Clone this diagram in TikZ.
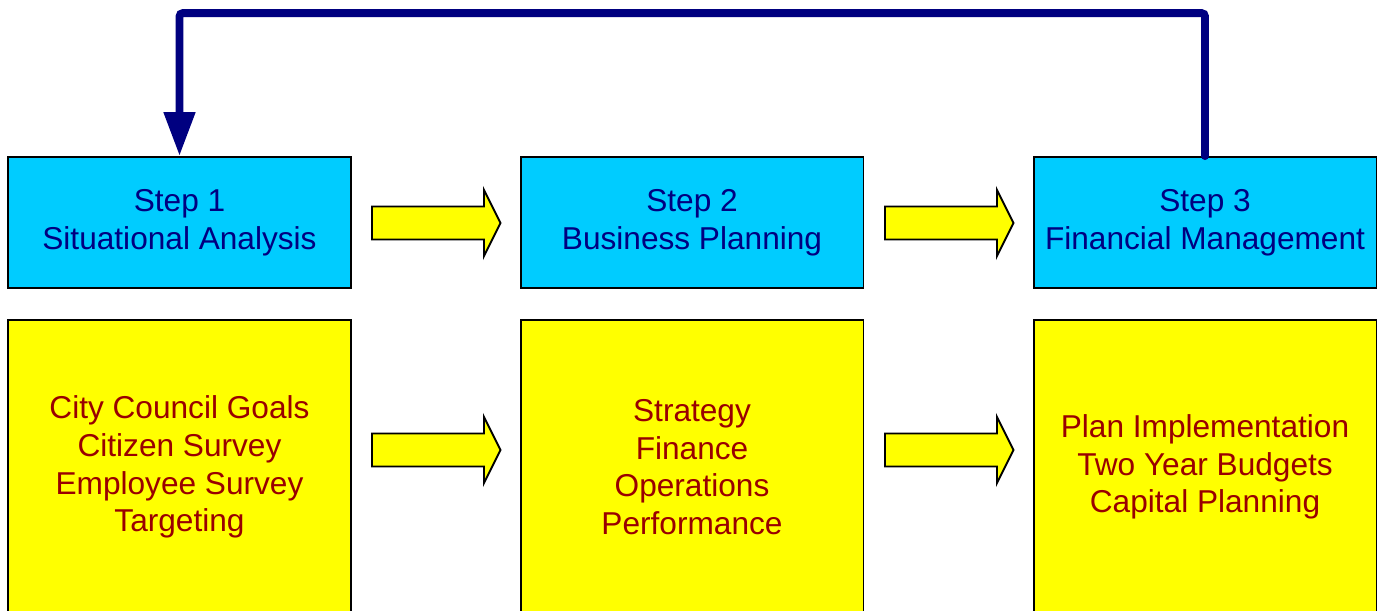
\documentclass[tikz,border=0pt]{standalone}
\usepackage{fontspec}
\setmainfont{Liberation Sans}
\usepackage{xcolor}
\usepackage{tikz}
\usetikzlibrary{arrows.meta, positioning, calc}
\definecolor{stepfill}{HTML}{00CCFF}
\definecolor{stepink}{HTML}{000080}
\definecolor{taskfill}{HTML}{FFFF00}
\definecolor{taskink}{HTML}{990000}
\definecolor{loopline}{HTML}{000080}

\begin{document}
\begin{tikzpicture}[
    x=0.02cm, y=-0.02cm,
    stepbox/.style={
        rectangle, draw=black, line width=1.1pt, fill=stepfill,
        minimum width=6.86cm, minimum height=2.62cm,
        align=center, text=stepink,
        font=\fontsize{18}{21.5}\selectfont,
    },
    taskbox/.style={
        rectangle, draw=black, line width=1.1pt, fill=taskfill,
        minimum width=6.86cm, minimum height=5.88cm,
        align=center, text=taskink,
        font=\fontsize{18}{21.5}\selectfont,
    },
    feedback/.style={
        draw=loopline, line width=4.5pt, rounded corners=2pt,
        line cap=round, -{Triangle[length=0.88cm, width=0.6cm]},
    },
    blockarrow/.pic={
        \draw[fill=taskfill, draw=black, line width=1.1pt, line join=miter]
            (0,-16.5) -- (112,-16.5) -- (112,-33) -- (128.5,0)
            -- (112,33) -- (112,16.5) -- (0,16.5) -- cycle;
    },
]
\useasboundingbox (0,0) rectangle (1382,610);
\clip (0,0) rectangle (1382,610);

% ── Step boxes (cyan) ───────────────────────────────────────────────────────
\node[stepbox] (s1) at (179.5,222.5) {Step 1\\Situational Analysis};
\node[stepbox] (s2) at (692,222.5)   {Step 2\\Business Planning};
\node[stepbox] (s3) at (1205,222.5)  {Step 3\\Financial Management};

% ── Task boxes (yellow), running off the page ──────────────────────────────
\node[taskbox] (t1) at (179.5,467) {City Council Goals\\Citizen Survey\\Employee Survey\\Targeting};
\node[taskbox] (t2) at (692,467)   {Strategy\\Finance\\Operations\\Performance};
\node[taskbox] (t3) at (1205,467)  {Plan Implementation\\Two Year Budgets\\Capital Planning};

% ── Block arrows between the columns ───────────────────────────────────────
\pic at (372,223) {blockarrow};
\pic at (885,223) {blockarrow};
\pic at (372,450) {blockarrow};
\pic at (885,450) {blockarrow};

% ── Loop back from step 3 to step 1 ────────────────────────────────────────
\draw[feedback] (s3.north) -- ++(0,-143) -| (s1.north);

\end{tikzpicture}
\end{document}
